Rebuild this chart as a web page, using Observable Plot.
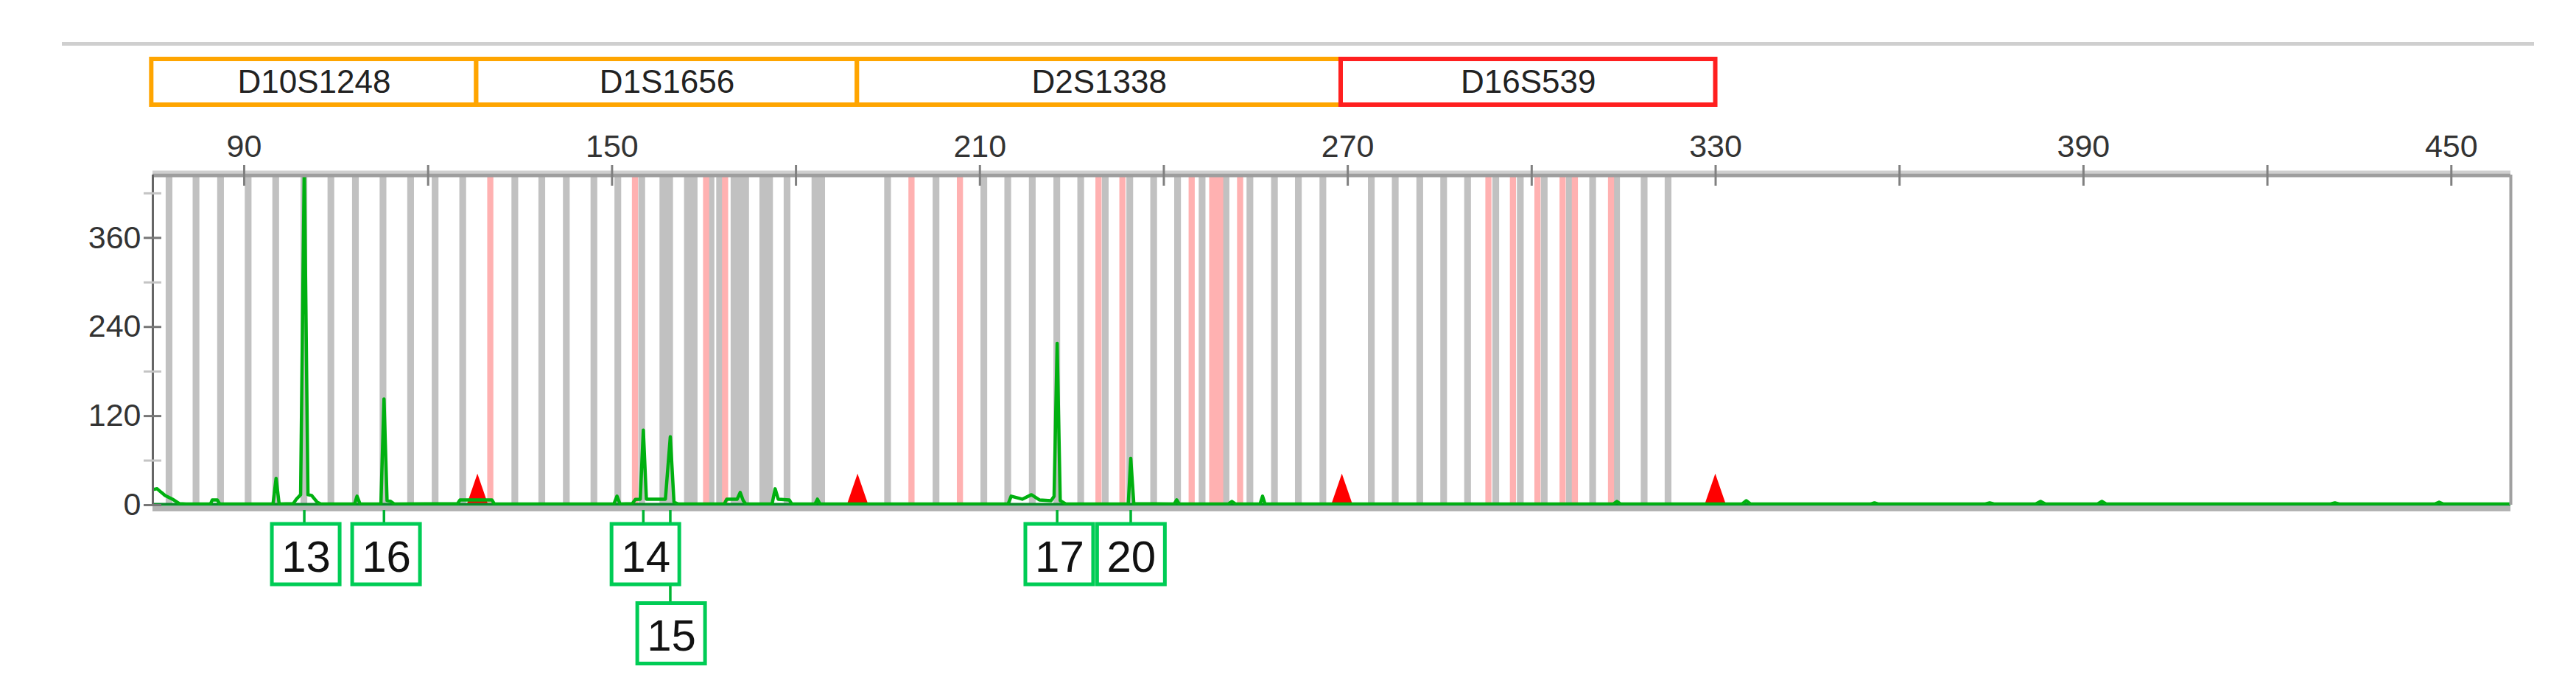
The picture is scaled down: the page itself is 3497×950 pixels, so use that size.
<!DOCTYPE html>
<html><head><meta charset="utf-8">
<script src="https://cdn.jsdelivr.net/npm/d3@7"></script>
<script src="https://cdn.jsdelivr.net/npm/@observablehq/plot@0.6"></script>
<style>
html,body{margin:0;padding:0;background:#fff;}
#wrap{position:relative;width:3497px;height:950px;overflow:hidden;font-family:"Liberation Sans",Arial,sans-serif;}
#topline{position:absolute;left:84px;top:57px;width:3356px;height:5px;background:#cfcfcf;}
#wrap svg{display:block;}
</style></head><body><div id="wrap"><div id="topline"></div></div>
<script>
// ---- Data ----
const markerNames  = ["D10S1248", "D1S1656", "D2S1338", "D16S539"];
const markerStart  = [74.9, 127.9, 190.0, 268.9];
const markerEnd    = [127.9, 190.0, 268.9, 330.0];
const markerFlag   = [false, false, false, true];

const ladderBinBp = [77.8, 82.2, 86.2, 90.7, 95.2, 99.8, 104.2, 108.2, 112.7, 117.2, 121.2, 125.7,
  134.2, 138.6, 142.6, 147.1, 151.0, 154.9, 158.9, 162.9, 166.2, 167.6, 170.9, 175.2, 178.6, 183.7,
  195.0, 202.9, 210.7, 214.6, 218.6, 222.6, 226.5, 230.5, 234.5, 238.4, 242.3, 246.3, 250.2, 254.1,
  258.1, 262.0, 266.0, 273.9, 277.8, 281.8, 285.7, 289.6, 294.2, 298.2, 302.1, 306.2, 310.0, 313.9,
  318.4, 322.3];
const ladderBinWidth = [1.1, 1.1, 1.1, 1.1, 1.1, 1.1, 1.1, 1.1, 1.1, 1.1, 1.1, 1.1,
  1.1, 1.1, 1.1, 1.1, 1.1, 1.1, 2.2, 2.2, 1.1, 1.1, 3.0, 2.2, 1.1, 2.2,
  1.1, 1.1, 1.1, 1.1, 1.1, 1.1, 1.1, 1.1, 1.1, 1.1, 1.1, 1.1, 1.1, 1.1,
  1.1, 1.1, 1.1, 1.1, 1.1, 1.1, 1.1, 1.1, 1.1, 1.1, 1.1, 1.1, 1.1, 1.1,
  1.1, 1.1];
const virtualBinBp    = [130.2, 153.8, 165.4, 168.5, 198.9, 206.8, 229.4, 233.3, 244.6, 248.6, 252.5,
  293.0, 297.0, 301.0, 305.1, 307.1, 313.0];
const virtualBinWidth = [1.0, 1.0, 1.0, 1.0, 1.0, 1.0, 1.0, 1.0, 1.0, 2.3, 1.0,
  1.0, 1.0, 1.0, 1.0, 1.0, 1.0];

const traceBp  = [75.1, 75.8, 76.5, 77.1, 78.3, 79.4, 80.5, 84.5, 84.8, 85.6, 86.0, 94.7, 95.2, 95.7,
  98.0, 98.5, 99.2, 99.8, 100.4, 101.0, 101.9, 102.5, 108.0, 108.4, 108.9, 112.3, 112.8, 113.3, 113.9, 114.5,
  124.8, 125.2, 130.4, 130.8, 150.3, 150.8, 151.3, 153.3, 153.8, 154.6, 155.1, 155.6, 158.7, 159.5, 160.1, 160.8,
  168.3, 168.7, 170.4, 170.9, 171.4, 171.8, 176.1, 176.6, 177.1, 178.9, 179.3, 183.1, 183.5, 183.9,
  214.6, 215.1, 216.9, 218.4, 219.7, 221.6, 222.1, 222.6, 223.1, 224.0, 234.2, 234.6, 235.1,
  241.7, 242.1, 242.5, 250.5, 251.1, 251.7, 255.7, 256.1, 256.5, 313.3, 313.9, 314.5, 334.3, 335.0, 335.7,
  355.3, 355.9, 356.5, 374.0, 374.7, 375.4, 382.2, 383.0, 383.8, 392.3, 393.0, 393.7, 430.3, 431.0, 431.7,
  447.3, 448.0, 448.7, 459.7];
const traceRfu = [21, 22, 17, 13, 8, 2, 1.5, 1.5, 7, 7, 1.5, 1.5, 36, 1.5,
  2, 8, 14, 460, 14, 13, 4, 1.5, 1.5, 12, 1.5, 1.5, 143, 6, 5, 1.5,
  2, 7, 7, 1.5, 1.5, 12, 1.5, 2, 7.6, 8, 101, 8, 8, 92, 4, 1.5,
  1.5, 8, 8, 17, 6, 1.5, 1.5, 22, 8, 7, 1.5, 1.5, 8, 1.5,
  1.5, 12, 8, 14, 7, 6, 12, 218, 6, 1.5, 1.5, 63, 2,
  1.5, 7, 1.5, 1.5, 5, 1.5, 1.5, 12, 1.5, 1.5, 5, 1.5, 1.5, 6, 1.5,
  1.5, 3, 1.5, 1.5, 3, 1.5, 1.5, 5, 1.5, 1.5, 5, 1.5, 1.5, 3, 1.5,
  1.5, 4, 1.5, 1.5];

const sizeStdBp     = [128.1, 190.1, 269.1, 330.0];
const sizeStdHeight = [42, 42, 42, 42];

const alleleNames   = ["13", "16", "14", "15", "17", "20"];
const alleleBp      = [99.8, 112.8, 155.1, 159.5, 222.6, 234.6];
const alleleLabelBp = [100.1, 113.2, 155.5, 159.7, 223.0, 234.7];
const alleleRow     = [1, 1, 1, 2, 1, 1];

const xTicks      = [90, 120, 150, 180, 210, 240, 270, 300, 330, 360, 390, 420, 450];
const xTickLabels = [90, 150, 210, 270, 330, 390, 450];
const yTicks      = [60, 180, 300, 420];
const yTickLabels = [0, 120, 240, 360];

// ---- Layout ----
const W = 3497, ML = 207, MR = 89;
const xDomain = [75.1, 459.7];
const yDomain = [0, 444.7];
const pxPerBp = (W - ML - MR) / (xDomain[1] - xDomain[0]);
const FONT = "Liberation Sans, Arial, Helvetica, sans-serif";

const markers = markerNames.map((name, i) => ({name, start: markerStart[i], end: markerEnd[i], flag: markerFlag[i]}));
const ladder = ladderBinBp.map((c, i) => ({c, w: ladderBinWidth[i]}));
const virtual = virtualBinBp.map((c, i) => ({c, w: virtualBinWidth[i]}));
const trace = traceBp.map((bp, i) => ({bp, rfu: traceRfu[i]}));
const triHalf = 1.75;
const triangles = sizeStdBp.flatMap((p, i) => [
  {id: i, x: p - triHalf, y: 0}, {id: i, x: p, y: sizeStdHeight[i]}, {id: i, x: p + triHalf, y: 0}]);
const alleles = alleleNames.map((a, i) => ({a, bp: alleleBp[i], lbp: alleleLabelBp[i], row: alleleRow[i]}));

const wrap = document.getElementById("wrap");

// Marker panel
const p1 = Plot.plot({
  width: W, height: 160, marginLeft: ML, marginRight: MR, marginTop: 80, marginBottom: 18,
  x: {domain: xDomain, axis: null}, y: {axis: null},
  style: {fontFamily: FONT, background: "transparent", overflow: "visible"},
  marks: [
    Plot.rect(markers.filter(d => !d.flag), {x1: "start", x2: "end", fill: "white", stroke: "#ffa500", strokeWidth: 6}),
    Plot.rect(markers.filter(d => d.flag), {x1: "start", x2: "end", fill: "white", stroke: "#ff1f1f", strokeWidth: 6}),
    Plot.text(markers, {x: d => (d.start + d.end) / 2, text: "name", frameAnchor: "middle", fontSize: 44, fill: "#222"})
  ]
});
wrap.appendChild(p1);

// Main electropherogram
const p2 = Plot.plot({
  width: W, height: 532, marginLeft: ML, marginRight: MR, marginTop: 77, marginBottom: 7,
  x: {domain: xDomain}, y: {domain: yDomain},
  style: {fontFamily: FONT, fontSize: "43px", color: "#333", background: "transparent", overflow: "visible"},
  marks: [
    Plot.rect(ladder, {x1: d => d.c - d.w / 2, x2: d => d.c + d.w / 2, fill: "#c1c1c1"}),
    Plot.rect(virtual, {x1: d => d.c - d.w / 2, x2: d => d.c + d.w / 2, fill: "#ffb1b1"}),
    Plot.ruleY([0], {stroke: "#b3b3b3", strokeWidth: 7, dy: 5}),
    Plot.areaY(triangles, {x: "x", y: "y", z: "id", fill: "#ff0000"}),
    Plot.ruleY([0], {stroke: "#0b8a2c", strokeWidth: 4, dy: -1}),
    Plot.line(trace, {x: "bp", y: "rfu", stroke: "#00b010", strokeWidth: 4.5, clip: true}),
    Plot.ruleY([yDomain[1]], {stroke: "#cfcfcf", strokeWidth: 4, dy: -4}),
    Plot.ruleY([yDomain[1]], {stroke: "#9e9e9e", strokeWidth: 5, dy: 0.5}),
    Plot.ruleX([xDomain[0]], {stroke: "#666", strokeWidth: 3}),
    Plot.ruleX([xDomain[1]], {stroke: "#a0a0a0", strokeWidth: 4}),
    Plot.axisX({anchor: "top", ticks: xTicks, tickSize: 28, dy: 14, tickFormat: () => "", stroke: "#808080", strokeWidth: 3}),
    Plot.axisX({anchor: "top", ticks: xTickLabels, tickSize: 0, tickPadding: 25, fontSize: 43, fill: "#333"}),
    Plot.axisY({anchor: "left", ticks: yTicks, tickSize: 24, dx: 12, tickFormat: () => "", stroke: "#c4c4c4", strokeWidth: 3}),
    Plot.axisY({anchor: "left", ticks: yTickLabels, tickSize: 24, dx: 12, tickFormat: () => "", stroke: "#777", strokeWidth: 3}),
    Plot.axisY({anchor: "left", ticks: yTickLabels, tickSize: 0, tickPadding: 16, fontSize: 43, fill: "#333"})
  ]
});
wrap.appendChild(p2);

// Allele call labels (rows 1 and 2 below the trace)
const rowStepPx = 107.5, row1CenterPx = 60, H3 = 258;
const yTop = 1 - row1CenterPx / rowStepPx;
const y3Domain = [yTop, yTop + H3 / rowStepPx];
const bh = 41 / rowStepPx;
const hw = 46 / pxPerBp;
const p3 = Plot.plot({
  width: W, height: H3, marginLeft: ML, marginRight: MR, marginTop: 0, marginBottom: 0,
  x: {domain: xDomain, axis: null},
  y: {domain: y3Domain, range: [0, H3], axis: null},
  style: {fontFamily: FONT, background: "transparent", overflow: "visible"},
  marks: [
    Plot.ruleX(alleles, {x: "bp", y1: () => yTop, y2: "row", stroke: "#00b432", strokeWidth: 3.5}),
    Plot.rect(alleles, {x1: d => d.lbp - hw, x2: d => d.lbp + hw, y1: d => d.row - bh, y2: d => d.row + bh, fill: "white", stroke: "#00cc55", strokeWidth: 5}),
    Plot.text(alleles, {x: "lbp", y: "row", text: "a", fontSize: 60, fill: "#111", dy: 4})
  ]
});
wrap.appendChild(p3);
</script></body></html>
